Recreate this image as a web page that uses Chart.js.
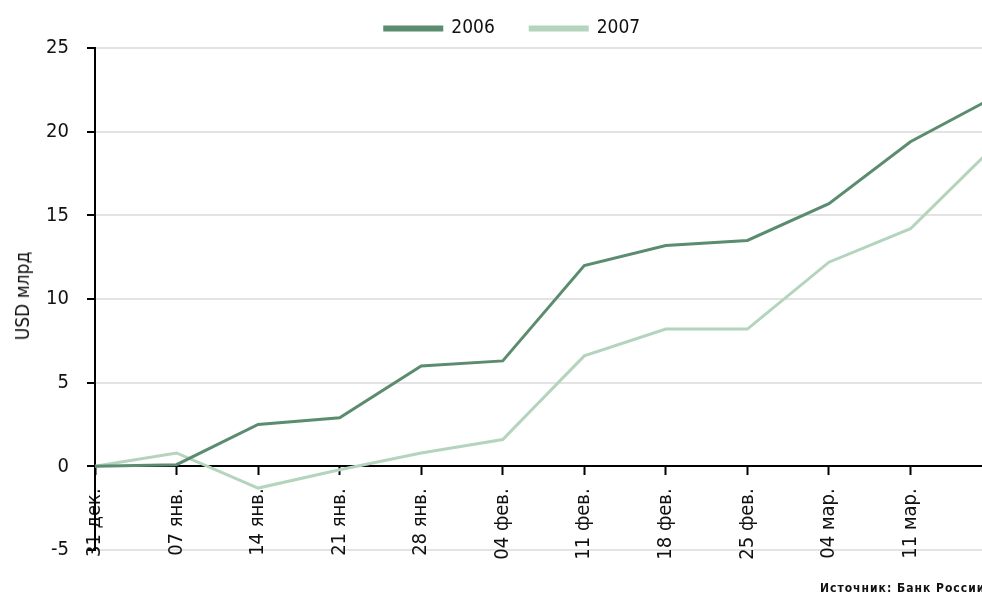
<!DOCTYPE html>
<html>
<head>
<meta charset="utf-8">
<script src="https://cdn.jsdelivr.net/npm/chart.js@4.4.1/dist/chart.umd.min.js"></script>
<style>
    html, body { margin: 0; padding: 0; overflow: hidden; background: #fff; width: 982px; height: 600px; }
    #wrap { position: absolute; left: 0; top: 0; width: 1030px; height: 600px; }
    #ytitle {
        position: absolute; left: 22px; top: 296px;
        transform: translate(-50%, -50%) rotate(-90deg);
        font: 19px 'Liberation Sans Narrow', 'DejaVu Sans Condensed', sans-serif;
        color: #111; white-space: nowrap;
    }
    #source {
        position: absolute; left: 820px; top: 581px;
        font: bold 12px 'Liberation Sans Narrow', 'DejaVu Sans Condensed', sans-serif;
        letter-spacing: 1px; color: #111; white-space: nowrap;
    }
</style>
</head>
<body>
<div id="wrap"><canvas id="myChart" width="1030" height="600"></canvas></div>
<div id="ytitle">USD млрд</div>
<div id="source">Источник: Банк России</div>
<script>
// weekly points, last one sits just past the right edge of the picture
var weeks = ['31 дек.', '07 янв.', '14 янв.', '21 янв.', '28 янв.', '04 фев.', '11 фев.', '18 фев.', '25 фев.', '04 мар.', '11 мар.', '18 мар.'];
var series2006 = [0, 0.1, 2.5, 2.9, 6.0, 6.3, 12.0, 13.2, 13.5, 15.7, 19.4, 22.0];
var series2007 = [0, 0.8, -1.3, -0.2, 0.8, 1.6, 6.6, 8.2, 8.2, 12.2, 14.2, 19.0];
var yMin = -5;
var yMax = 25;
var yStep = 5;

var narrow = "'Liberation Sans Narrow', 'DejaVu Sans Condensed', sans-serif";

var ctx = document.getElementById("myChart").getContext('2d');
var myChart = new Chart(ctx, {
    type: 'line',
    data: {
        labels: weeks,
        datasets: [{
            label: '2006',
            data: series2006,
            borderColor: '#5b8c6f',
            backgroundColor: '#5b8c6f',
            borderWidth: 3,
            pointRadius: 0,
            tension: 0,
        }, {
            label: '2007',
            data: series2007,
            borderColor: '#b4d4bd',
            backgroundColor: '#b4d4bd',
            borderWidth: 3,
            pointRadius: 0,
            tension: 0,
        }]
    },
    options: {
        responsive: false,
        animation: false,
        layout: {
            padding: { left: 0, right: 5, top: 4, bottom: 50 }
        },
        plugins: {
            tooltip: { enabled: false },
            legend: {
                position: 'top',
                labels: {
                    boxWidth: 57,
                    boxHeight: 3,
                    padding: 15,
                    color: '#111',
                    font: { family: narrow, size: 19 },
                    generateLabels: function(chart) {
                        var items = Chart.defaults.plugins.legend.labels.generateLabels(chart);
                        // wider gap between the two entries, like the original
                        items.forEach(function(item, i) {
                            if (i < items.length - 1) item.text = item.text + '\u2002\u2002\u2009';
                        });
                        return items;
                    }
                }
            }
        },
        scales: {
            x: {
                type: 'category',
                position: { y: 0 },
                offset: false,
                grid: {
                    drawOnChartArea: false,
                    drawTicks: true,
                    tickLength: 8,
                    tickColor: '#000',
                    tickWidth: 2,
                },
                border: { display: true, color: '#000', width: 2 },
                ticks: {
                    autoSkip: false,
                    minRotation: 90,
                    maxRotation: 90,
                    padding: 14,
                    color: '#111',
                    font: { family: narrow, size: 20 },
                    callback: function(value, index) {
                        // the last week is cut off by the frame
                        if (index == weeks.length - 1) return '';
                        return weeks[index];
                    }
                }
            },
            y: {
                min: yMin,
                max: yMax,
                afterFit: function(scale) {
                    scale.width = 95;
                },
                grid: {
                    color: '#e3e3e3',
                    lineWidth: 2,
                    drawTicks: true,
                    tickLength: 8,
                    tickColor: '#000',
                    tickWidth: 2,
                },
                border: { display: true, color: '#000', width: 2 },
                ticks: {
                    stepSize: yStep,
                    padding: 18,
                    color: '#111',
                    font: { family: narrow, size: 20 },
                }
            }
        }
    }
});
</script>
</body>
</html>
